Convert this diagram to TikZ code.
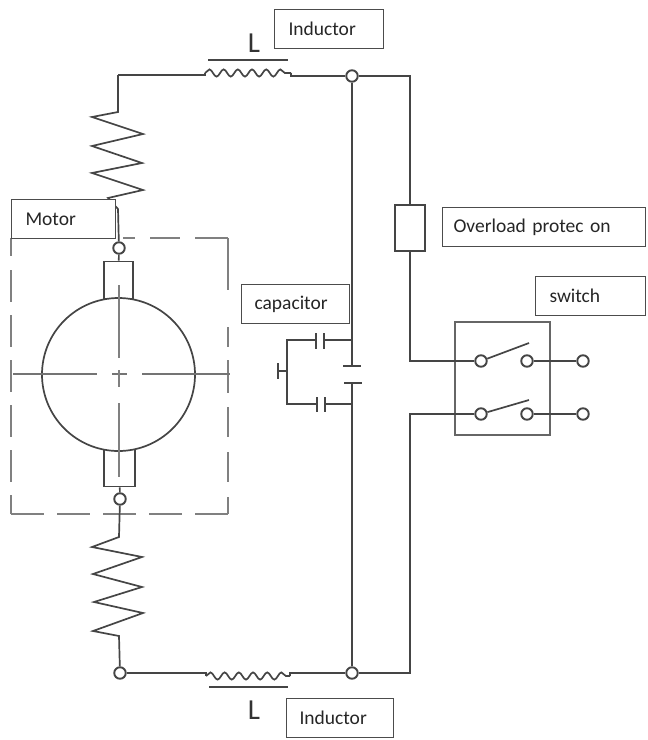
\documentclass[tikz,border=0pt]{standalone}
\usepackage{fontspec}
\setmainfont{Carlito}
\usetikzlibrary{decorations.pathmorphing}
\definecolor{wirecol}{HTML}{454545}
\tikzset{
    wire/.style={draw=wirecol, line width=1.7pt, line join=miter},
    thin wire/.style={draw=wirecol!75, line width=1.2pt},
    box dash/.style={draw=black!50, line width=1.6pt},
    term/.style={circle, draw=wirecol, line width=1.9pt, fill=white, minimum size=11.5pt, inner sep=0pt},
    tag/.style={draw=black!70, line width=1pt, fill=white, anchor=north west, minimum height=39pt,
        inner xsep=13pt, inner ysep=0pt, align=left, font=\fontsize{19.5}{21}\selectfont, text=black!85},
    bigL/.style={inner sep=0pt, text=black!80, font=\fontsize{29}{30}\selectfont},
    coil/.style={wire, decorate, decoration={snake, segment length=14.2pt, amplitude=3.6pt}},
}
\begin{document}
\begin{tikzpicture}[x=1pt, y=-1pt]
    \useasboundingbox (0,0) rectangle (648,740);

    % motor
    \draw[box dash, dash pattern=on 12pt off 15pt on 30pt off 15pt on 34pt] (123,238) -- (228,238);
    \draw[box dash, dash pattern=on 52pt off 37pt on 20pt off 13pt on 33pt off 14pt on 30pt off 15pt on 30pt off 15pt on 18pt] (228,238) -- (228,514);
    \draw[box dash, dash pattern=on 33pt off 13pt] (11,514) -- (228,514);
    \draw[box dash, dash pattern=on 18pt off 14pt on 32pt off 13pt on 32pt off 13pt on 32pt off 13pt on 32pt off 13pt on 32pt off 13pt on 20pt] (11,238) -- (11,514);
    \node[rectangle, wire, minimum width=29pt, minimum height=37pt, inner sep=0pt] (brushT) at (118.5,280) {};
    \node[rectangle, wire, minimum width=31pt, minimum height=37pt, inner sep=0pt] (brushB) at (119.5,468) {};
    \node[circle, wire, minimum size=153pt, inner sep=0pt, fill=white] (rotor) at (118.5,374.5) {};
    \draw[thin wire, dash pattern=on 84pt off 15pt on 15pt off 15pt on 88pt] (13,374) -- (230,374);
    \draw[thin wire, draw=black!50, line width=1.5pt, dash pattern=on 73pt off 12pt on 17pt off 16pt on 74pt] (119,285) -- (119,477);
    \node[term] (termT) at (119,248) {};
    \node[term] (termB) at (120,499) {};
    \node[term] (termC) at (120,673) {};

    % junctions
    \node[term] (junT) at (352,76) {};
    \node[term] (junB) at (352,673) {};

    % inductors
    \coordinate (coilTa) at (205,73);
    \coordinate (coilTb) at (291,73);
    \coordinate (coilBa) at (206,676);
    \coordinate (coilBb) at (290,676);
    \draw[coil] (coilTa) -- (coilTb);
    \draw[coil] (coilBa) -- (coilBb);
    \draw[wire] (208,60) -- (288,60);
    \draw[wire] (209,687) -- (288,687);
    \node[bigL] (lT) at (254,43) {L};
    \node[bigL] (lB) at (254,710) {L};

    % outer wires
    \coordinate (cornerT) at (118,75);
    \draw[wire] (junT) -- (coilTb |- junT) -- (coilTb);
    \draw[wire] (coilTa) -- (205,75) -- (cornerT);
    \draw[wire] (cornerT) -- (118,112) -- (92,117) -- (143,134) -- (92,146) -- (142,163)
        -- (92,173) -- (143,190) -- (108,198) -- (118,209) -- (termT);
    \draw[wire] (termT) -- (brushT);
    \draw[wire] (brushB) -- (termB);
    \draw[wire] (termB) -- (119,537) -- (92,547) -- (142,557) -- (93,574) -- (142,587)
        -- (94,602) -- (143,613) -- (93,631) -- (119,636) -- (termC);
    \draw[wire] (termC) -- (206,673) -- (coilBa);
    \draw[wire] (coilBb) -- (290,673) -- (junB);

    % capacitor
    \coordinate (plateA) at (352,366);
    \coordinate (plateB) at (352,383);
    \coordinate (capT) at (352,340);
    \coordinate (capB) at (352,404);
    \coordinate (gnd) at (278,371);
    \draw[wire] (junT) -- (plateA);
    \draw[wire] (plateB) -- (junB);
    \draw[wire] (343,366) -- (361,366);
    \draw[wire] (344,383) -- (362,383);
    \draw[wire] (capT) -- (324,340);
    \draw[wire] (316,340) -- (287,340) -- (287,404) -- (317,404);
    \draw[wire] (325,404) -- (capB);
    \draw[wire] (316,333) -- (316,349);
    \draw[wire] (324,333) -- (324,349);
    \draw[wire] (317,397) -- (317,412);
    \draw[wire] (325,397) -- (325,412);
    \draw[wire] (287,371) -- (gnd);
    \draw[wire] (278,363) -- (278,379);

    % overload protector
    \node[rectangle, wire, minimum width=30pt, minimum height=46pt, inner sep=0pt] (fuse) at (410,228) {};
    \coordinate (cornerR) at (410,76);
    \coordinate (cornerS) at (410,673);

    % switch
    \node[rectangle, draw=black!60, line width=1.2pt, minimum width=95pt, minimum height=113pt, inner sep=0pt] (swbox) at (502.5,378.5) {};
    \node[term] (swAa) at (481,361) {};
    \node[term] (swAb) at (527,361) {};
    \node[term] (swAc) at (583,361) {};
    \node[term] (swBa) at (481,414) {};
    \node[term] (swBb) at (527,414) {};
    \node[term] (swBc) at (583,414) {};
    \coordinate (bladeA) at (529,343);
    \coordinate (bladeB) at (529,400);
    \draw[wire] (swAa) -- (bladeA);
    \draw[wire] (swBa) -- (bladeB);
    \draw[wire] (swAb) -- (swAc);
    \draw[wire] (swBb) -- (swBc);
    \draw[wire] (junT) -- (cornerR) -- (fuse);
    \draw[wire] (fuse) -- (swAa -| fuse) -- (swAa);
    \draw[wire] (swBa) -- (swBa -| cornerS) -- (cornerS) -- (junB);

    % labels
    \node[tag, text width=81pt, inner xsep=14pt, yshift=1pt] (tagIndT) at (274,10) {Inductor};
    \node[tag, text width=76pt, inner xsep=14pt] (tagMotor) at (11,199) {Motor};
    \node[tag, text width=181pt, inner xsep=11pt] (tagOver) at (442,207) {Overload protec on};
    \node[tag, text width=82pt] (tagCap) at (241,284) {capacitor};
    \node[tag, text width=82pt, inner xsep=14pt] (tagSw) at (535,276) {switch};
    \node[tag, text width=81pt] (tagIndB) at (286,698) {Inductor};
\end{tikzpicture}
\end{document}
